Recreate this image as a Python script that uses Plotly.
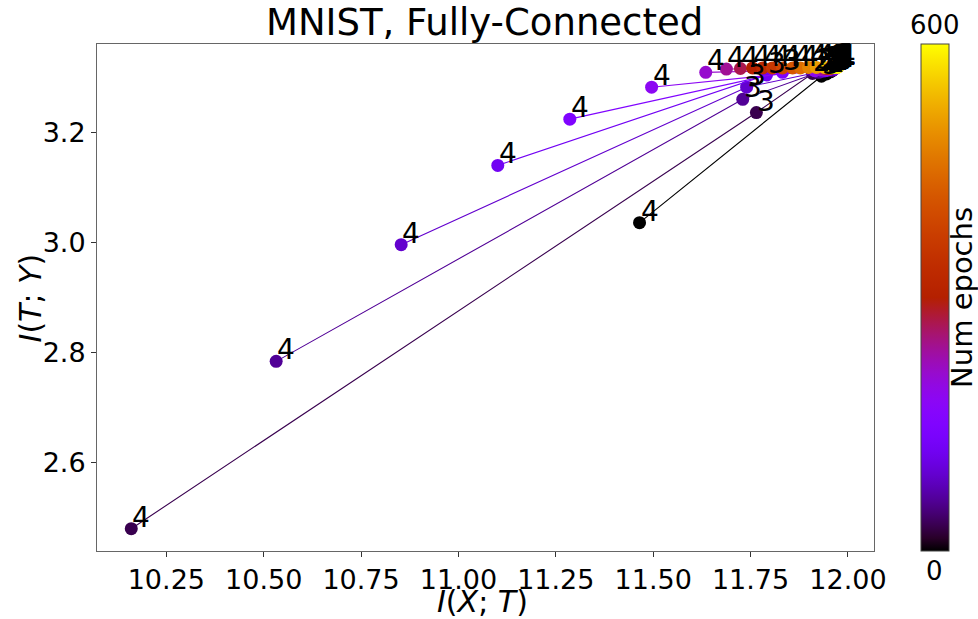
import math
import plotly.graph_objects as go

# ---------------- data ----------------
epochs = [0, 30, 60, 90, 120, 150, 180, 210, 240, 270, 300, 330, 360, 390, 420, 450, 480, 510, 540, 570, 600]

layer1_x = [11.955, 11.960, 11.962, 11.965, 11.967, 11.968, 11.970, 11.971, 11.972, 11.973, 11.974, 11.975, 11.975, 11.975, 11.974, 11.973, 11.972, 11.971, 11.970, 11.969, 11.968]
layer1_y = [3.310, 3.312, 3.314, 3.315, 3.316, 3.317, 3.318, 3.318, 3.319, 3.319, 3.319, 3.320, 3.320, 3.320, 3.320, 3.320, 3.320, 3.320, 3.320, 3.320, 3.320]

layer2_x = [11.945, 11.909, 11.925, 11.935, 11.942, 11.947, 11.950, 11.953, 11.955, 11.957, 11.958, 11.959, 11.960, 11.961, 11.961, 11.962, 11.962, 11.962, 11.962, 11.962, 11.962]
layer2_y = [3.306, 3.307, 3.309, 3.311, 3.312, 3.313, 3.314, 3.315, 3.316, 3.317, 3.317, 3.318, 3.318, 3.318, 3.318, 3.319, 3.319, 3.319, 3.319, 3.319, 3.319]

layer3_x = [11.932, 11.765, 11.730, 11.740, 11.791, 11.832, 11.915, 11.930, 11.938, 11.944, 11.948, 11.951, 11.953, 11.955, 11.956, 11.957, 11.958, 11.959, 11.960, 11.961, 11.962]
layer3_y = [3.302, 3.236, 3.260, 3.282, 3.304, 3.309, 3.312, 3.314, 3.315, 3.316, 3.316, 3.317, 3.317, 3.317, 3.317, 3.318, 3.318, 3.318, 3.318, 3.318, 3.318]

layer4_x = [11.465, 10.160, 10.532, 10.853, 11.101, 11.286, 11.496, 11.635, 11.688, 11.724, 11.755, 11.781, 11.806, 11.832, 11.858, 11.878, 11.899, 11.919, 11.940, 11.958, 11.973]
layer4_y = [3.036, 2.480, 2.784, 2.996, 3.140, 3.224, 3.282, 3.309, 3.315, 3.316, 3.317, 3.317, 3.317, 3.317, 3.317, 3.317, 3.318, 3.318, 3.318, 3.318, 3.318]

x_ticks = [10.25, 10.50, 10.75, 11.00, 11.25, 11.50, 11.75, 12.00]
y_ticks = [2.6, 2.8, 3.0, 3.2]
epoch_min, epoch_max = 0, 600

# ---------------- styling helpers ----------------
def gnuplot(t):
    r = math.sqrt(max(t, 0))
    g = t ** 3
    b = max(0.0, min(1.0, math.sin(2 * math.pi * t)))
    return "rgb(%d,%d,%d)" % (round(r * 255), round(g * 255), round(b * 255))

colorscale = [[i / 40, gnuplot(i / 40)] for i in range(41)]

FONT = "DejaVu Sans"
fig = go.Figure()

layers_x = [layer1_x, layer2_x, layer3_x, layer4_x]
layers_y = [layer1_y, layer2_y, layer3_y, layer4_y]

annotations = []
for i, ep in enumerate(epochs):
    col = gnuplot((ep - epoch_min) / (epoch_max - epoch_min))
    xs = [lx[i] for lx in layers_x]
    ys = [ly[i] for ly in layers_y]
    fig.add_trace(go.Scatter(
        x=xs, y=ys, mode="lines+markers",
        line=dict(color=col, width=1.1),
        marker=dict(color=col, size=13, line=dict(width=0)),
        showlegend=False, hoverinfo="skip"))
    for k in range(4):
        annotations.append(dict(
            x=xs[k], y=ys[k], xref="x", yref="y", text=str(k + 1),
            showarrow=False, xanchor="left", yanchor="bottom",
            xshift=-1, yshift=-7,
            font=dict(family=FONT, size=28, color="black")))

# colorbar carrier
fig.add_trace(go.Scatter(
    x=[None], y=[None], mode="markers",
    marker=dict(color=[0], cmin=epoch_min, cmax=epoch_max, colorscale=colorscale,
                showscale=True,
                colorbar=dict(x=1.0605, xanchor="left", y=0.5, yanchor="middle",
                              len=1, lenmode="fraction", thickness=28,
                              outlinewidth=1, outlinecolor="#444",
                              xpad=0, ypad=0, ticks="", showticklabels=False)),
    showlegend=False, hoverinfo="skip"))

annotations += [
    dict(x=1.0785, y=1.003, xref="paper", yref="paper", text=str(epoch_max),
         showarrow=False, xanchor="center", yanchor="bottom",
         font=dict(family=FONT, size=26, color="black")),
    dict(x=1.0785, y=-0.005, xref="paper", yref="paper", text=str(epoch_min),
         showarrow=False, xanchor="center", yanchor="top",
         font=dict(family=FONT, size=26, color="black")),
    dict(x=1.1125, y=0.5, xref="paper", yref="paper", text="Num epochs",
         showarrow=False, xanchor="center", yanchor="middle", textangle=-90,
         font=dict(family=FONT, size=29, color="black")),
    dict(x=0.4955, y=-0.062, xref="paper", yref="paper",
         text="<i>I</i>(<i>X</i>; <i>T</i>)",
         showarrow=False, xanchor="center", yanchor="top",
         font=dict(family=FONT, size=30, color="black")),
    dict(x=-0.085, y=0.5, xref="paper", yref="paper",
         text="<i>I</i>(<i>T</i>; <i>Y</i>)", textangle=-90,
         showarrow=False, xanchor="center", yanchor="middle",
         font=dict(family=FONT, size=30, color="black")),
]

axis_common = dict(showgrid=False, zeroline=False, showline=True, mirror=True,
                   linecolor="#666", linewidth=1, ticks="outside", ticklen=5,
                   tickcolor="#333", automargin=False,
                   tickfont=dict(family=FONT, size=27, color="black"))

fig.update_layout(
    width=978, height=619,
    margin=dict(l=97, r=104, t=44, b=68),
    paper_bgcolor="white", plot_bgcolor="white",
    title=dict(text="MNIST, Fully-Connected", x=0.4955, xanchor="center",
               y=0.964, yanchor="middle",
               font=dict(family=FONT, size=37, color="black")),
    xaxis=dict(range=[10.072, 12.067], tickvals=x_ticks, tickformat=".2f",
               **axis_common),
    yaxis=dict(range=[2.4395, 3.3605], tickvals=y_ticks, tickformat=".1f",
               **axis_common),
    annotations=annotations,
)

# remove the default page margin so the figure fills the window exactly
fig.write_html("out.html", config={"displayModeBar": False},
               post_script="document.body.style.margin='0';document.body.style.overflow='hidden';")
